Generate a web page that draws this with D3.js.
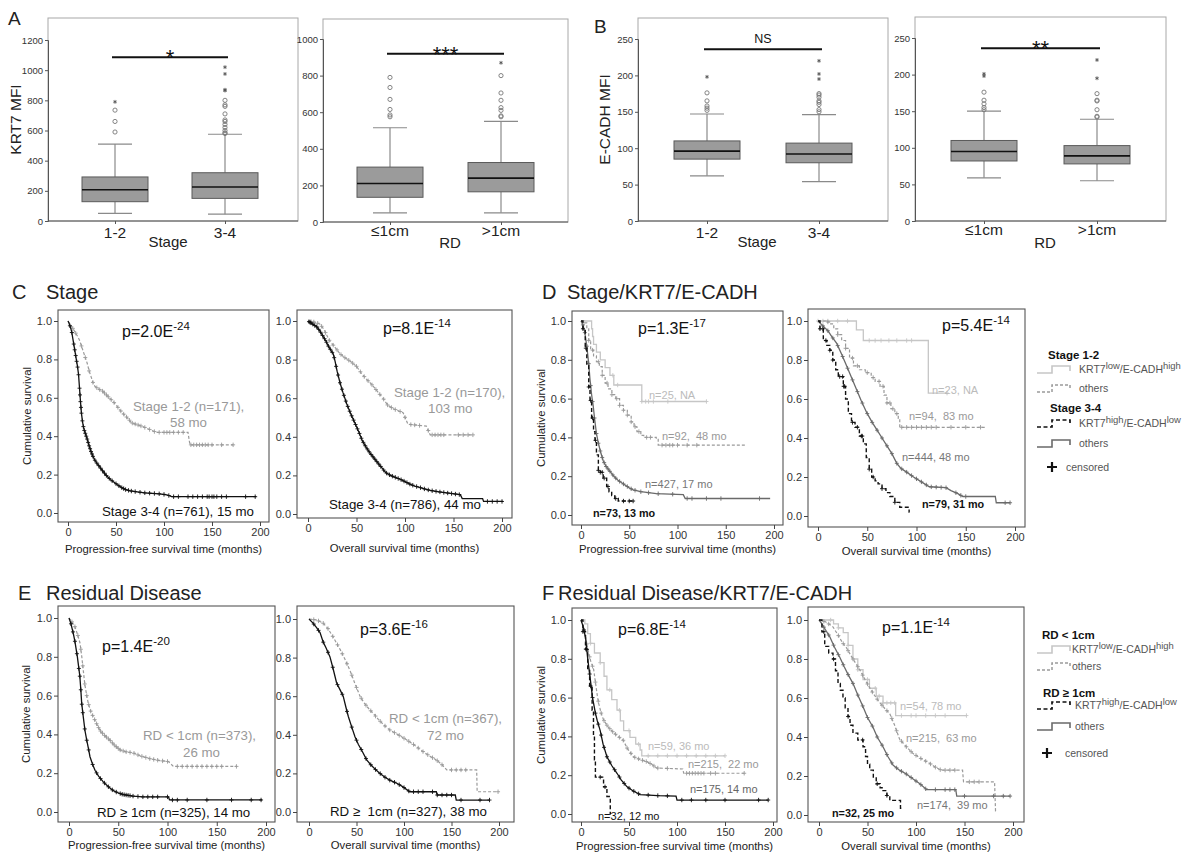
<!DOCTYPE html>
<html>
<head>
<meta charset="utf-8">
<script src="https://cdnjs.cloudflare.com/ajax/libs/d3/7.8.5/d3.min.js"></script>
<style>
body { margin: 0; background: #fff; }
svg { font-family: "Liberation Sans", Arial, sans-serif; }
</style>
</head>
<body>
<svg id="fig" width="1187" height="854"></svg>
<script>
// ---------------- box plot data (A, B) ----------------
var stageCats = ["1-2", "3-4"];
var rdCats = ["\u22641cm", ">1cm"];

var krt7StageBox = [
    {q1: 128, med: 207, q3: 292, lo: 50, hi: 510},
    {q1: 150, med: 225, q3: 320, lo: 45, hi: 575}
];
var krt7StageOut = [[590, 660, 735], [580, 585, 600, 620, 640, 660, 670, 710, 760, 770, 800]];
var krt7StageExt = [[790], [865, 870, 975, 1020]];

var krt7RdBox = [
    {q1: 135, med: 210, q3: 300, lo: 50, hi: 515},
    {q1: 165, med: 240, q3: 325, lo: 50, hi: 550}
];
var krt7RdOut = [[575, 585, 615, 670, 735, 790], [575, 580, 610, 625, 665, 705, 800]];
var krt7RdExt = [[], [870]];

var ecadStageBox = [
    {q1: 85, med: 96, q3: 110, lo: 62, hi: 147},
    {q1: 80, med: 92, q3: 107, lo: 54, hi: 146}
];
var ecadStageOut = [[152, 155, 158, 165, 176], [150, 153, 160, 163, 165, 170, 173, 175]];
var ecadStageExt = [[198], [195, 202, 220]];

var ecadRdBox = [
    {q1: 82, med: 95, q3: 110, lo: 59, hi: 150},
    {q1: 78, med: 89, q3: 103, lo: 55, hi: 139}
];
var ecadRdOut = [[152, 155, 160, 165, 176], [142, 143, 152, 164, 165, 174]];
var ecadRdExt = [[198, 201], [195, 220]];

// ---------------- Kaplan-Meier data (C-F): [months, survival] ----------------
// C  Stage, PFS
var pfsStage12 = [[0,1],[2,0.985],[4,0.97],[7,0.945],[10,0.92],[12,0.9],[14,0.87],[16,0.84],[18,0.81],[20,0.78],[22,0.74],[24,0.71],[26,0.68],[28,0.66],[32,0.645],[36,0.635],[40,0.615],[44,0.595],[48,0.575],[52,0.55],[56,0.525],[60,0.505],[63,0.49],[66,0.47],[72,0.46],[78,0.45],[85,0.435],[92,0.42],[125,0.42],[127,0.355],[172,0.355]];
var pfsStage12Cens = [5,8,14,18,22,26,30,33,36,38,40,42,45,48,52,55,58,61,64,67,70,73,76,80,85,90,95,100,103,106,110,115,120,128,131,134,137,140,143,146,150,160,172];
var pfsStage34 = [[0,1],[1,0.99],[2,0.975],[3,0.96],[4,0.94],[5,0.91],[6,0.88],[7,0.85],[8,0.82],[9,0.79],[10,0.76],[11,0.72],[12,0.65],[13,0.58],[14,0.52],[15,0.48],[16,0.45],[17,0.43],[18,0.415],[20,0.385],[22,0.35],[24,0.32],[26,0.295],[28,0.275],[30,0.26],[33,0.24],[36,0.22],[40,0.195],[44,0.175],[48,0.16],[52,0.145],[56,0.132],[60,0.122],[65,0.115],[72,0.11],[80,0.105],[95,0.1],[103,0.095],[108,0.085],[196,0.085]];
var pfsStage34Cens = [2,4,6,7,8,9,10,11,12,12.5,13,13.5,14,15,16,17,18,19,20,21,22,23,24,25,26,28,30,32,34,36,38,40,43,46,50,53,56,58,60,63,66,70,75,80,85,90,95,100,105,110,115,125,130,135,140,145,147,150,152,155,160,165,185,195];
// C  Stage, OS
var osStage12 = [[0,1],[6,0.995],[12,0.985],[16,0.96],[19,0.93],[22,0.9],[26,0.875],[30,0.85],[33,0.83],[38,0.81],[44,0.79],[50,0.765],[55,0.73],[60,0.7],[65,0.675],[70,0.645],[74,0.62],[78,0.595],[82,0.565],[88,0.545],[98,0.525],[103,0.465],[122,0.455],[126,0.41],[170,0.41]];
var osStage12Cens = [3,6,10,14,18,22,26,30,34,38,42,46,50,54,58,62,66,70,74,78,82,86,90,95,100,106,110,115,124,128,131,134,137,140,155,160,165,170];
var osStage34 = [[0,1],[3,0.99],[6,0.98],[9,0.97],[12,0.95],[15,0.925],[18,0.9],[21,0.87],[24,0.845],[26,0.83],[28,0.79],[30,0.74],[33,0.68],[36,0.63],[40,0.57],[44,0.52],[48,0.475],[52,0.43],[56,0.38],[60,0.345],[64,0.315],[68,0.29],[72,0.265],[76,0.24],[80,0.215],[85,0.2],[90,0.19],[95,0.18],[100,0.168],[105,0.155],[110,0.145],[115,0.138],[120,0.13],[126,0.122],[135,0.115],[145,0.108],[157,0.1],[159,0.08],[180,0.08],[181,0.065],[201,0.065]];
var osStage34Cens = [1,2,3,5,7,9,11,13,15,17,19,21,23,25,27,29,31,33,35,37,39,41,43,45,47,49,51,53,55,57,59,61,63,65,67,69,71,73,75,78,81,84,87,90,93,96,99,102,105,108,112,116,120,124,128,132,136,140,144,148,152,156,185,190,195,200];

// D  Stage/KRT7/E-CADH, PFS
var pfsS12Low = [[0,1],[11,0.96],[12,0.92],[13,0.88],[16,0.84],[20,0.8],[25,0.76],[30,0.72],[34,0.67],[63,0.585],[130,0.585]];
var pfsS12LowCens = [33,38,63,67,70,75,90,130];
var pfsS12Oth = [[0,1],[3,0.99],[6,0.96],[8,0.9],[10,0.85],[13,0.82],[16,0.79],[19,0.765],[22,0.72],[25,0.68],[28,0.65],[32,0.62],[36,0.6],[40,0.565],[44,0.54],[48,0.515],[52,0.48],[55,0.455],[58,0.43],[62,0.41],[65,0.4],[78,0.39],[80,0.36],[171,0.36]];
var pfsS12OthCens = [8,12,18,22,27,32,37,40,44,48,52,56,60,68,72,84,88,92,95,100,110,120];
var pfsS34High = [[0,1],[2,0.96],[4.4,0.86],[6,0.77],[8,0.66],[9.3,0.59],[11,0.5],[13,0.43],[14.5,0.385],[16,0.31],[18,0.23],[20,0.22],[23,0.19],[26.6,0.147],[29,0.12],[31.8,0.1],[35,0.085],[38.6,0.072],[54,0.072]];
var pfsS34HighCens = [2,5,8,10,12,15,18,20,22,24,28,36,44,50,54];
var pfsS34Oth = [[0,1],[2,0.98],[4,0.94],[6,0.87],[8,0.78],[9.3,0.7],[11,0.62],[12.7,0.56],[14,0.5],[16,0.42],[18,0.37],[20,0.33],[23,0.28],[26,0.25],[30,0.225],[34,0.2],[38,0.18],[44,0.16],[50,0.14],[54,0.13],[62,0.12],[78,0.11],[106,0.105],[108,0.085],[196,0.085]];
var pfsS34OthCens = [2,4,6,8,10,12,14,16,18,20,22,24,26,28,30,33,36,40,44,48,52,56,62,70,80,95,110,115,130,145,185];
// D  Stage/KRT7/E-CADH, OS
var osS12Low = [[0,1],[39,0.955],[46,0.9],[112,0.63],[131,0.63]];
var osS12LowCens = [0,5,10,20,30,52,58,64,72,80,90,95,131];
var osS12Oth = [[0,1],[8,0.995],[12,0.985],[16,0.96],[20,0.93],[24,0.9],[28,0.86],[32,0.81],[36,0.77],[42,0.75],[48,0.735],[54,0.71],[58,0.69],[63,0.665],[67,0.62],[70,0.58],[74,0.55],[78,0.525],[81.5,0.5],[83,0.455],[171,0.455]];
var osS12OthCens = [10,20,28,35,40,50,56,62,66,70,73,76,80,85,90,95,100,105,110,115,120,135,150,165];
var osS34High = [[0,1],[2,0.96],[5.4,0.9],[9,0.875],[12,0.85],[15,0.8],[18,0.75],[20.6,0.715],[25.7,0.665],[28,0.6],[30.8,0.525],[34,0.48],[37.6,0.455],[42,0.41],[46,0.37],[49,0.3],[52,0.24],[54.5,0.2],[58,0.18],[61,0.165],[65,0.14],[69,0.12],[73,0.1],[78,0.07],[83,0.045],[92,0.045],[92.5,0.02],[93,0.02]];
var osS34HighCens = [2,5,8,12,15,22,25,26,27,35,40,44,45,52,56,65,78];
var osS34Oth = [[0,1],[3,0.985],[6,0.97],[10,0.95],[14,0.92],[19,0.885],[24,0.83],[29,0.77],[34,0.71],[39,0.65],[44,0.59],[49.5,0.53],[55,0.48],[60,0.44],[65,0.4],[70,0.36],[75,0.32],[80,0.27],[84,0.245],[90,0.225],[97,0.2],[105,0.175],[113,0.15],[130,0.145],[135,0.13],[142,0.115],[147,0.1],[180,0.1],[181,0.068],[195,0.068]];
var osS34OthCens = [5,10,15,20,25,30,35,40,45,50,55,60,65,70,75,80,85,90,95,100,105,110,115,120,125,130,140,145,150,190,195];

// E  Residual disease, PFS
var pfsRdLow = [[0,1],[3,0.98],[6,0.955],[9,0.91],[11.2,0.87],[13,0.8],[14.5,0.73],[16,0.66],[18,0.6],[19.6,0.56],[22,0.52],[24.7,0.49],[28,0.455],[31.5,0.42],[36,0.395],[41.6,0.37],[46,0.345],[51.8,0.32],[58,0.31],[65,0.305],[72,0.29],[82,0.275],[92,0.265],[101,0.26],[106,0.235],[170,0.235]];
var pfsRdLowCens = [3,6,9,12,14,16,18,20,22,24,26,28,30,32,34,36,38,40,42,44,46,48,50,52,55,58,62,66,70,74,78,82,86,90,95,100,110,115,120,125,130,135,140,145,150,155,170];
var pfsRdHigh = [[0,1],[2,0.97],[4.4,0.92],[6,0.88],[8.5,0.8],[10,0.74],[11,0.7],[12,0.63],[12.9,0.56],[14.5,0.49],[16.2,0.42],[18,0.37],[20,0.32],[21.3,0.285],[24,0.245],[26.4,0.215],[30,0.185],[34.8,0.155],[40,0.13],[45,0.11],[50,0.098],[55,0.09],[65,0.082],[75,0.078],[101,0.078],[102,0.062],[196,0.062]];
var pfsRdHighCens = [2,4,6,8,10,11,12,13,14,16,18,20,24,28,32,36,40,44,48,52,54,56,58,60,62,65,70,75,80,85,90,100,105,110,120,140,165,185,195];
// E  Residual disease, OS
var osRdLow = [[0,1],[8,0.995],[15,0.978],[20,0.95],[25,0.91],[29,0.875],[33,0.84],[38,0.79],[43,0.735],[48,0.67],[53.7,0.6],[58,0.565],[63,0.535],[67.7,0.51],[73,0.48],[79,0.45],[85,0.425],[94,0.4],[103,0.373],[110,0.35],[120,0.313],[127,0.29],[134,0.27],[140,0.245],[145,0.218],[176.5,0.218],[177,0.105],[199,0.105]];
var osRdLowCens = [5,10,15,20,25,30,35,40,45,50,55,60,65,70,75,80,85,90,95,100,105,110,115,120,125,130,135,140,150,155,160,165,199];
var osRdHigh = [[0,1],[4,0.98],[8,0.955],[11.6,0.93],[15,0.88],[18,0.85],[22,0.805],[25,0.75],[29,0.67],[33,0.63],[36,0.6],[39,0.54],[41.4,0.495],[45,0.44],[48.4,0.39],[52,0.35],[56,0.315],[60.7,0.27],[65,0.245],[70,0.22],[74.7,0.2],[80,0.18],[85,0.165],[92,0.15],[99,0.13],[106,0.105],[134,0.105],[135,0.088],[154,0.088],[155,0.062],[190,0.062]];
var osRdHighCens = [5,10,15,20,25,30,35,40,45,50,55,60,65,70,75,80,85,90,95,100,105,110,115,120,130,135,140,145,150,160,180,190];

// F  Residual disease/KRT7/E-CADH, PFS
var pfsR1Low = [[0,1],[4,0.98],[7,0.93],[9.8,0.88],[14,0.83],[20,0.78],[24,0.71],[27,0.64],[32,0.59],[37.5,0.535],[41,0.48],[44.4,0.43],[51,0.395],[57,0.36],[61.6,0.33],[63.3,0.3],[150,0.3]];
var pfsR1LowCens = [10,20,30,40,50,60,70,80,90,100,110,120,130,140,150];
var pfsR1Oth = [[0,1],[3,0.95],[5,0.9],[8,0.83],[10,0.79],[13.2,0.745],[15,0.68],[17,0.61],[18.4,0.57],[21,0.52],[23.5,0.485],[28,0.45],[33.8,0.42],[40,0.395],[44,0.38],[48,0.34],[54.6,0.295],[62,0.28],[68.4,0.27],[74,0.255],[78.7,0.237],[106,0.232],[107,0.21],[170,0.21]];
var pfsR1OthCens = [3,6,9,12,15,18,21,24,27,30,33,36,40,44,48,52,56,60,64,68,72,76,80,90,110,113,116,119,122,125,128,135,140,170];
var pfsR2High = [[0,1],[2,0.94],[4.7,0.85],[7,0.75],[9,0.66],[11.6,0.535],[13,0.4],[14,0.28],[15,0.19],[20,0.19],[23.5,0.14],[27,0.09],[30.5,0],[31,0]];
var pfsR2HighCens = [2,5,10,20,25];
var pfsR2Oth = [[0,1],[2,0.97],[4.7,0.91],[7,0.8],[9.8,0.69],[12,0.6],[15,0.52],[17,0.48],[20,0.43],[23,0.36],[27,0.295],[32,0.25],[37.5,0.21],[42,0.175],[48,0.14],[54,0.12],[61.6,0.1],[80,0.095],[99,0.092],[100,0.072],[195,0.072]];
var pfsR2OthCens = [3,6,9,12,15,18,21,24,27,30,35,40,45,50,55,60,70,80,90,105,115,130,150,185,195];
// F  Residual disease/KRT7/E-CADH, OS
var osR1Low = [[0,1],[15,0.98],[20,0.96],[25,0.935],[30,0.87],[35,0.8],[40,0.745],[45.4,0.695],[52,0.65],[59,0.61],[66,0.575],[78,0.575],[79,0.51],[152,0.51]];
var osR1LowCens = [12,20,30,40,50,58,62,66,70,74,78,85,95,100,110,120,130,152];
var osR1Oth = [[0,1],[7,0.99],[14.4,0.965],[20,0.92],[24,0.885],[28,0.86],[35,0.8],[42,0.745],[49,0.68],[55.7,0.625],[62,0.58],[68,0.545],[72.9,0.52],[78,0.46],[83,0.39],[90,0.35],[97,0.315],[105,0.29],[114,0.265],[120,0.245],[126,0.23],[148,0.23],[149,0.17],[181,0.17],[182,0.02],[182.5,0.02]];
var osR1OthCens = [5,10,20,25,30,35,40,45,50,55,60,65,70,75,80,85,90,95,100,105,110,115,120,125,130,135,140,155,160,165];
var osR2High = [[0,1],[3,0.94],[5.9,0.865],[10,0.83],[14.4,0.8],[17,0.74],[19.6,0.675],[22,0.64],[24.7,0.6],[27,0.55],[29.9,0.505],[32,0.46],[35,0.42],[40,0.385],[45.4,0.35],[48,0.3],[50,0.26],[52.3,0.23],[56,0.19],[59,0.16],[63,0.14],[66,0.125],[70,0.1],[73,0.075],[83.5,0.075],[84,0.035],[86,0.035]];
var osR2HighCens = [5,15,30,45,60,70];
var osR2Oth = [[0,1],[3,0.98],[6,0.955],[11,0.915],[16,0.86],[21.3,0.81],[26,0.76],[30,0.72],[35,0.675],[40,0.615],[45.4,0.555],[50,0.5],[55.7,0.45],[60,0.4],[66,0.35],[71,0.3],[76.5,0.255],[83,0.23],[90,0.21],[97,0.185],[104,0.16],[111,0.13],[141,0.13],[142,0.097],[197,0.097]];
var osR2OthCens = [5,10,15,20,25,30,35,40,45,50,55,60,65,70,75,80,85,90,95,100,105,110,120,130,135,140,150,180,190,197];

var kmTicksX = [0, 50, 100, 150, 200];
var kmTicksY = [0, 0.2, 0.4, 0.6, 0.8, 1.0];

// ---------------- drawing ----------------
var svg = d3.select("#fig");

var LIGHT = {stroke: "#c6c6c6", dash: null, w: 1.3};
var GRAYD = {stroke: "#9a9a9a", dash: "3,2", w: 1.2};
var DARK = {stroke: "#6a6a6a", dash: null, w: 1.3};
var BLACK = {stroke: "#111", dash: null, w: 1.3};
var BLACKD = {stroke: "#111", dash: "4,2.5", w: 1.4};

// text with optional superscripts: parts = [[str, isSup], ...]
function rich(g, x, y, parts, size, fill, weight, supScale) {
    var t = g.append("text")
        .attr("x", x).attr("y", y)
        .attr("font-size", size)
        .attr("fill", fill || "#222")
        .attr("font-weight", weight || "normal")
        .attr("xml:space", "preserve");
    var cur = 0;
    parts.forEach(function (p) {
        var want = p[1] ? -size * 0.42 : 0;
        var sp = t.append("tspan").text(p[0]).attr("dy", want - cur);
        if (p[1]) sp.attr("font-size", size * (supScale || 0.72));
        cur = want;
    });
    return t;
}

function survAt(pts, t) {
    var s = pts[0][1];
    pts.forEach(function (p) { if (p[0] <= t) s = p[1]; });
    return s;
}

function boxPanel(o) {
    var g = svg.append("g");
    var y = d3.scaleLinear().domain([0, o.yMax]).range([o.bottom, o.yMaxPx]);
    var x = d3.scalePoint().domain(o.cats).range(o.xr);
    var bw = 66, cw = 34;

    g.append("rect")
        .attr("x", o.left).attr("y", o.top)
        .attr("width", o.right - o.left).attr("height", o.bottom - o.top)
        .attr("fill", "none").attr("stroke", "#a8a8a8");

    var ya = g.append("g")
        .attr("transform", "translate(" + o.left + ",0)")
        .call(d3.axisLeft(y).tickValues(o.ticks).tickFormat(d3.format("d")).tickSize(3).tickPadding(2));
    ya.select(".domain").attr("stroke", "#555");
    ya.selectAll(".tick line").attr("stroke", "#555");
    ya.selectAll("text").attr("font-size", 9.5).attr("fill", "#333").attr("font-family", null);

    var xa = g.append("g")
        .attr("transform", "translate(0," + o.bottom + ")")
        .call(d3.axisBottom(x).tickSize(3).tickFormat(""));
    xa.select(".domain").attr("d", "M" + o.left + ",0H" + o.right).attr("stroke", "#555");
    xa.selectAll(".tick line").attr("stroke", "#555");

    o.cats.forEach(function (c, i) {
        var cx = x(c), b = o.boxes[i];
        g.append("line").attr("x1", cx).attr("x2", cx).attr("y1", y(b.q3)).attr("y2", y(b.hi)).attr("stroke", "#8a8a8a").attr("stroke-width", 1.2);
        g.append("line").attr("x1", cx).attr("x2", cx).attr("y1", y(b.q1)).attr("y2", y(b.lo)).attr("stroke", "#8a8a8a").attr("stroke-width", 1.2);
        [b.lo, b.hi].forEach(function (v) {
            g.append("line").attr("x1", cx - cw / 2).attr("x2", cx + cw / 2).attr("y1", y(v)).attr("y2", y(v)).attr("stroke", "#8a8a8a").attr("stroke-width", 1.2);
        });
        g.append("rect")
            .attr("x", cx - bw / 2).attr("y", y(b.q3))
            .attr("width", bw).attr("height", y(b.q1) - y(b.q3))
            .attr("fill", "#9b9b9b").attr("stroke", "#5a5a5a");
        g.append("line").attr("x1", cx - bw / 2).attr("x2", cx + bw / 2).attr("y1", y(b.med)).attr("y2", y(b.med)).attr("stroke", "#111").attr("stroke-width", 1.6);

        g.selectAll(null).data(o.out[i]).enter().append("circle")
            .attr("cx", cx).attr("cy", function (d) { return y(d); })
            .attr("r", 2.1).attr("fill", "none").attr("stroke", "#777").attr("stroke-width", 0.9);
        g.selectAll(null).data(o.ext[i]).enter().append("path")
            .attr("transform", function (d) { return "translate(" + cx + "," + y(d) + ")"; })
            .attr("d", d3.symbol(d3.symbolAsterisk, 10)())
            .attr("fill", "none").attr("stroke", "#555").attr("stroke-width", 0.9);

        g.append("text").attr("x", cx).attr("y", o.catY).attr("text-anchor", "middle")
            .attr("font-size", 15.5).attr("fill", "#222").text(c);
    });

    // significance bar
    var x1 = x(o.cats[0]) - 3, x2 = x(o.cats[1]) + 3;
    g.append("line").attr("x1", x1).attr("x2", x2).attr("y1", y(o.sig.v)).attr("y2", y(o.sig.v)).attr("stroke", "#111").attr("stroke-width", 2);
    g.append("text").attr("x", (x1 + x2) / 2).attr("y", y(o.sig.v) + o.sig.dy)
        .attr("text-anchor", "middle").attr("font-size", o.sig.size).attr("fill", "#111").text(o.sig.label);

    g.append("text").attr("x", o.titleX).attr("y", o.titleY).attr("text-anchor", "middle")
        .attr("font-size", 15).attr("fill", "#222").text(o.title);
    if (o.ylab) {
        g.append("text").attr("transform", "translate(" + o.ylabX + "," + ((o.top + o.bottom) / 2) + ") rotate(-90)")
            .attr("text-anchor", "middle").attr("font-size", 15.5).attr("fill", "#222").text(o.ylab);
    }
}

function kmPanel(o) {
    var g = svg.append("g");
    var x = d3.scaleLinear().domain([0, 200]).range(o.xr);
    var y = d3.scaleLinear().domain([0, 1]).range(o.yr);

    g.append("rect")
        .attr("x", o.left).attr("y", o.top)
        .attr("width", o.right - o.left).attr("height", o.bottom - o.top)
        .attr("fill", "none").attr("stroke", "#555").attr("stroke-width", 1.1);

    var ya = g.append("g")
        .attr("transform", "translate(" + o.left + ",0)")
        .call(d3.axisLeft(y).tickValues(kmTicksY).tickFormat(d3.format(".1f")).tickSize(4).tickPadding(2));
    var xa = g.append("g")
        .attr("transform", "translate(0," + o.bottom + ")")
        .call(d3.axisBottom(x).tickValues(kmTicksX).tickSize(4).tickPadding(2));
    [ya, xa].forEach(function (a) {
        a.select(".domain").remove();
        a.selectAll(".tick line").attr("stroke", "#444");
        a.selectAll("text").attr("font-size", 11).attr("fill", "#333").attr("font-family", null);
    });

    o.curves.forEach(function (c) {
        // large groups have many tiny steps: draw them as a smooth trace
        var line = d3.line()
            .x(function (d) { return x(d[0]); })
            .y(function (d) { return y(d[1]); })
            .curve(c.step ? d3.curveStepAfter : d3.curveLinear);
        g.append("path").attr("d", line(c.pts))
            .attr("fill", "none").attr("stroke", c.st.stroke)
            .attr("stroke-width", c.st.w).attr("stroke-dasharray", c.st.dash);
        var lin = d3.scaleLinear()
            .domain(c.pts.map(function (p) { return p[0]; }))
            .range(c.pts.map(function (p) { return p[1]; }));
        g.selectAll(null).data(c.cens).enter().append("path")
            .attr("d", function (t) {
                var px = x(t), py = y(c.step ? survAt(c.pts, t) : lin(t));
                return "M" + (px - 2) + "," + py + "H" + (px + 2) + "M" + px + "," + (py - 2.2) + "V" + (py + 2.2);
            })
            .attr("stroke", c.st.stroke).attr("stroke-width", 0.9);
    });

    g.append("text").attr("x", (o.left + o.right) / 2).attr("y", o.xlabY).attr("text-anchor", "middle")
        .attr("font-size", 11.3).attr("fill", "#222").text(o.xlab);
    if (o.ylabX) {
        g.append("text").attr("transform", "translate(" + o.ylabX + "," + ((o.top + o.bottom) / 2) + ") rotate(-90)")
            .attr("text-anchor", "middle").attr("font-size", 11.3).attr("fill", "#222").text("Cumulative survival");
    }
    o.texts.forEach(function (t) {
        rich(g, t.x, t.y, t.parts, t.size, t.fill, t.weight);
    });
}

function legend(o) {
    var g = svg.append("g");
    o.items.forEach(function (it) {
        if (it.head) {
            g.append("text").attr("x", it.x).attr("y", it.y).attr("font-size", 11.5)
                .attr("font-weight", "bold").attr("fill", "#111").text(it.head);
        } else if (it.st) {
            var x0 = o.x, yy = it.y - 3;
            g.append("path")
                .attr("d", "M" + x0 + "," + (yy + 3) + "H" + (x0 + 15) + "V" + (yy - 4) + "H" + (x0 + 33) + "V" + (yy + 1))
                .attr("fill", "none").attr("stroke", it.st.stroke).attr("stroke-width", it.st.w + 0.3)
                .attr("stroke-dasharray", it.st.dash);
            rich(g, it.tx, it.y, it.parts, 10.5, "#555", null, 0.9);
        } else {
            g.append("path").attr("d", "M" + (it.x - 5) + "," + it.py + "H" + (it.x + 5) + "M" + it.x + "," + (it.py - 5) + "V" + (it.py + 5))
                .attr("stroke", "#111").attr("stroke-width", 2.2);
            g.append("text").attr("x", it.tx).attr("y", it.y).attr("font-size", 10.5).attr("fill", "#555").text("censored");
        }
    });
}

// panel letters and titles
rich(svg, 8, 25, [["A"]], 19, "#222");
rich(svg, 594, 33, [["B"]], 19, "#222");
rich(svg, 12, 299, [["C"]], 20, "#222");
rich(svg, 46, 299, [["Stage"]], 20, "#222");
rich(svg, 542, 299, [["D"]], 20, "#222");
rich(svg, 567, 299, [["Stage/KRT7/E-CADH"]], 20, "#222");
rich(svg, 18, 600, [["E"]], 20, "#222");
rich(svg, 46, 600, [["Residual Disease"]], 20, "#222");
rich(svg, 542, 600, [["F"]], 20, "#222");
rich(svg, 558, 600, [["Residual Disease/KRT7/E-CADH"]], 20, "#222");

// ---- A ----
boxPanel({left: 48, right: 298, top: 18, bottom: 221, yMax: 1200, yMaxPx: 40,
    ticks: d3.range(0, 1201, 200), cats: stageCats, xr: [115, 225],
    boxes: krt7StageBox, out: krt7StageOut, ext: krt7StageExt,
    sig: {v: 1085, label: "*", size: 22, dy: 8}, catY: 238,
    title: "Stage", titleX: 168, titleY: 247, ylab: "KRT7 MFI", ylabX: 21});
boxPanel({left: 323, right: 568, top: 19, bottom: 222, yMax: 1000, yMaxPx: 39,
    ticks: d3.range(0, 1001, 200), cats: rdCats, xr: [390, 501],
    boxes: krt7RdBox, out: krt7RdOut, ext: krt7RdExt,
    sig: {v: 920, label: "***", size: 22, dy: 8}, catY: 236,
    title: "RD", titleX: 450, titleY: 248});
// ---- B ----
boxPanel({left: 638, right: 888, top: 18, bottom: 221, yMax: 250, yMaxPx: 39,
    ticks: d3.range(0, 251, 50), cats: stageCats, xr: [707, 819],
    boxes: ecadStageBox, out: ecadStageOut, ext: ecadStageExt,
    sig: {v: 236, label: "NS", size: 12.5, dy: -6}, catY: 238,
    title: "Stage", titleX: 757, titleY: 247, ylab: "E-CADH MFI", ylabX: 610});
boxPanel({left: 915, right: 1166, top: 17, bottom: 221, yMax: 250, yMaxPx: 38,
    ticks: d3.range(0, 251, 50), cats: rdCats, xr: [984, 1097],
    boxes: ecadRdBox, out: ecadRdOut, ext: ecadRdExt,
    sig: {v: 236, label: "**", size: 22, dy: 8}, catY: 235,
    title: "RD", titleX: 1045, titleY: 248});

// ---- C ----
kmPanel({left: 58, right: 269, top: 310, bottom: 522, xr: [68, 260], yr: [513, 321],
    xlab: "Progression-free survival time (months)", xlabY: 553, ylabX: 31,
    curves: [
        {pts: pfsStage12, cens: pfsStage12Cens, st: GRAYD, step: false},
        {pts: pfsStage34, cens: pfsStage34Cens, st: BLACK, step: false}
    ],
    texts: [
        {x: 122, y: 337, parts: [["p=2.0E"], ["-24", 1]], size: 16, fill: "#111"},
        {x: 133, y: 411, parts: [["Stage 1-2 (n=171),"]], size: 13.3, fill: "#999"},
        {x: 170, y: 427, parts: [["58 mo"]], size: 13.3, fill: "#999"},
        {x: 102, y: 516, parts: [["Stage 3-4 (n=761), 15 mo"]], size: 13.3, fill: "#111"}
    ]});
kmPanel({left: 297, right: 512, top: 310, bottom: 518, xr: [308, 502], yr: [514, 321],
    xlab: "Overall survival time (months)", xlabY: 552,
    curves: [
        {pts: osStage12, cens: osStage12Cens, st: GRAYD, step: false},
        {pts: osStage34, cens: osStage34Cens, st: BLACK, step: false}
    ],
    texts: [
        {x: 383, y: 334, parts: [["p=8.1E"], ["-14", 1]], size: 16, fill: "#111"},
        {x: 394, y: 397, parts: [["Stage 1-2 (n=170),"]], size: 13.3, fill: "#999"},
        {x: 428, y: 413, parts: [["103 mo"]], size: 13.3, fill: "#999"},
        {x: 329, y: 509, parts: [["Stage 3-4 (n=786), 44 mo"]], size: 13.3, fill: "#111"}
    ]});

// ---- D ----
kmPanel({left: 572, right: 783, top: 311, bottom: 525, xr: [581, 774], yr: [515, 321],
    xlab: "Progression-free survival time (months)", xlabY: 553, ylabX: 545,
    curves: [
        {pts: pfsS12Low, cens: pfsS12LowCens, st: LIGHT, step: true},
        {pts: pfsS12Oth, cens: pfsS12OthCens, st: GRAYD, step: true},
        {pts: pfsS34Oth, cens: pfsS34OthCens, st: DARK, step: false},
        {pts: pfsS34High, cens: pfsS34HighCens, st: BLACKD, step: true}
    ],
    texts: [
        {x: 638, y: 334, parts: [["p=1.3E"], ["-17", 1]], size: 16, fill: "#111"},
        {x: 649, y: 399, parts: [["n=25, NA"]], size: 11, fill: "#bbb"},
        {x: 662, y: 440, parts: [["n=92,  48 mo"]], size: 11, fill: "#999"},
        {x: 645, y: 488, parts: [["n=427, 17 mo"]], size: 11, fill: "#777"},
        {x: 593, y: 517, parts: [["n=73, 13 mo"]], size: 10.8, fill: "#111", weight: "bold"}
    ]});
kmPanel({left: 808, right: 1025, top: 309, bottom: 527, xr: [818, 1015], yr: [516, 321],
    xlab: "Overall survival time (months)", xlabY: 555,
    curves: [
        {pts: osS12Low, cens: osS12LowCens, st: LIGHT, step: true},
        {pts: osS12Oth, cens: osS12OthCens, st: GRAYD, step: true},
        {pts: osS34Oth, cens: osS34OthCens, st: DARK, step: false},
        {pts: osS34High, cens: osS34HighCens, st: BLACKD, step: true}
    ],
    texts: [
        {x: 942, y: 331, parts: [["p=5.4E"], ["-14", 1]], size: 16, fill: "#111"},
        {x: 932, y: 394, parts: [["n=23, NA"]], size: 11, fill: "#bbb"},
        {x: 909, y: 420, parts: [["n=94,  83 mo"]], size: 11, fill: "#999"},
        {x: 902, y: 461, parts: [["n=444, 48 mo"]], size: 11, fill: "#777"},
        {x: 922, y: 508, parts: [["n=79, 31 mo"]], size: 10.8, fill: "#111", weight: "bold"}
    ]});
legend({x: 1037, items: [
    {head: "Stage 1-2", x: 1048, y: 359},
    {st: LIGHT, y: 373, tx: 1079, parts: [["KRT7"], ["low", 1], ["/E-CADH"], ["high", 1]]},
    {st: GRAYD, y: 392, tx: 1079, parts: [["others"]]},
    {head: "Stage 3-4", x: 1050, y: 412},
    {st: BLACKD, y: 427, tx: 1079, parts: [["KRT7"], ["high", 1], ["/E-CADH"], ["low", 1]]},
    {st: DARK, y: 447, tx: 1079, parts: [["others"]]},
    {x: 1052, py: 467, tx: 1066, y: 471}
]});

// ---- E ----
kmPanel({left: 58, right: 275, top: 606, bottom: 822, xr: [69, 266], yr: [812, 618],
    xlab: "Progression-free survival time (months)", xlabY: 849, ylabX: 30,
    curves: [
        {pts: pfsRdLow, cens: pfsRdLowCens, st: GRAYD, step: false},
        {pts: pfsRdHigh, cens: pfsRdHighCens, st: BLACK, step: false}
    ],
    texts: [
        {x: 102, y: 652, parts: [["p=1.4E"], ["-20", 1]], size: 16, fill: "#111"},
        {x: 143, y: 740, parts: [["RD < 1cm (n=373),"]], size: 13.3, fill: "#999"},
        {x: 183, y: 757, parts: [["26 mo"]], size: 13.3, fill: "#999"},
        {x: 97, y: 817, parts: [["RD \u2265 1cm (n=325), 14 mo"]], size: 13.3, fill: "#111"}
    ]});
kmPanel({left: 297, right: 514, top: 606, bottom: 822, xr: [309, 499], yr: [812, 619],
    xlab: "Overall survival time (months)", xlabY: 849,
    curves: [
        {pts: osRdLow, cens: osRdLowCens, st: GRAYD, step: false},
        {pts: osRdHigh, cens: osRdHighCens, st: BLACK, step: false}
    ],
    texts: [
        {x: 360, y: 635, parts: [["p=3.6E"], ["-16", 1]], size: 16, fill: "#111"},
        {x: 389, y: 723, parts: [["RD < 1cm (n=367),"]], size: 13.3, fill: "#999"},
        {x: 427, y: 740, parts: [["72 mo"]], size: 13.3, fill: "#999"},
        {x: 330, y: 816, parts: [["RD \u2265  1cm (n=327), 38 mo"]], size: 13.3, fill: "#111"}
    ]});

// ---- F ----
kmPanel({left: 572, right: 777, top: 608, bottom: 822, xr: [581, 773], yr: [814, 620],
    xlab: "Progression-free survival time (months)", xlabY: 850, ylabX: 545,
    curves: [
        {pts: pfsR1Low, cens: pfsR1LowCens, st: LIGHT, step: true},
        {pts: pfsR1Oth, cens: pfsR1OthCens, st: GRAYD, step: false},
        {pts: pfsR2Oth, cens: pfsR2OthCens, st: BLACK, step: false},
        {pts: pfsR2High, cens: pfsR2HighCens, st: BLACKD, step: true}
    ],
    texts: [
        {x: 618, y: 635, parts: [["p=6.8E"], ["-14", 1]], size: 16, fill: "#111"},
        {x: 648, y: 750, parts: [["n=59, 36 mo"]], size: 11, fill: "#bbb"},
        {x: 688, y: 768, parts: [["n=215,  22 mo"]], size: 11, fill: "#999"},
        {x: 690, y: 793, parts: [["n=175, 14 mo"]], size: 11, fill: "#666"},
        {x: 598, y: 820, parts: [["n=32, 12 mo"]], size: 11, fill: "#111"}
    ]});
kmPanel({left: 808, right: 1024, top: 607, bottom: 822, xr: [819, 1013], yr: [815, 620],
    xlab: "Overall survival time (months)", xlabY: 850,
    curves: [
        {pts: osR1Low, cens: osR1LowCens, st: LIGHT, step: true},
        {pts: osR1Oth, cens: osR1OthCens, st: GRAYD, step: false},
        {pts: osR2Oth, cens: osR2OthCens, st: DARK, step: false},
        {pts: osR2High, cens: osR2HighCens, st: BLACKD, step: true}
    ],
    texts: [
        {x: 882, y: 633, parts: [["p=1.1E"], ["-14", 1]], size: 16, fill: "#111"},
        {x: 900, y: 710, parts: [["n=54, 78 mo"]], size: 11, fill: "#bbb"},
        {x: 906, y: 742, parts: [["n=215,  63 mo"]], size: 11, fill: "#999"},
        {x: 917, y: 809, parts: [["n=174,  39 mo"]], size: 11, fill: "#777"},
        {x: 832, y: 817, parts: [["n=32, 25 mo"]], size: 10.8, fill: "#111", weight: "bold"}
    ]});
legend({x: 1037, items: [
    {head: "RD < 1cm", x: 1042, y: 639},
    {st: LIGHT, y: 653, tx: 1072, parts: [["KRT7"], ["low", 1], ["/E-CADH"], ["high", 1]]},
    {st: GRAYD, y: 670, tx: 1072, parts: [["others"]]},
    {head: "RD \u2265 1cm", x: 1043, y: 697},
    {st: BLACKD, y: 709, tx: 1075, parts: [["KRT7"], ["high", 1], ["/E-CADH"], ["low", 1]]},
    {st: DARK, y: 730, tx: 1075, parts: [["others"]]},
    {x: 1047, py: 753, tx: 1065, y: 757}
]});
</script>
</body>
</html>
